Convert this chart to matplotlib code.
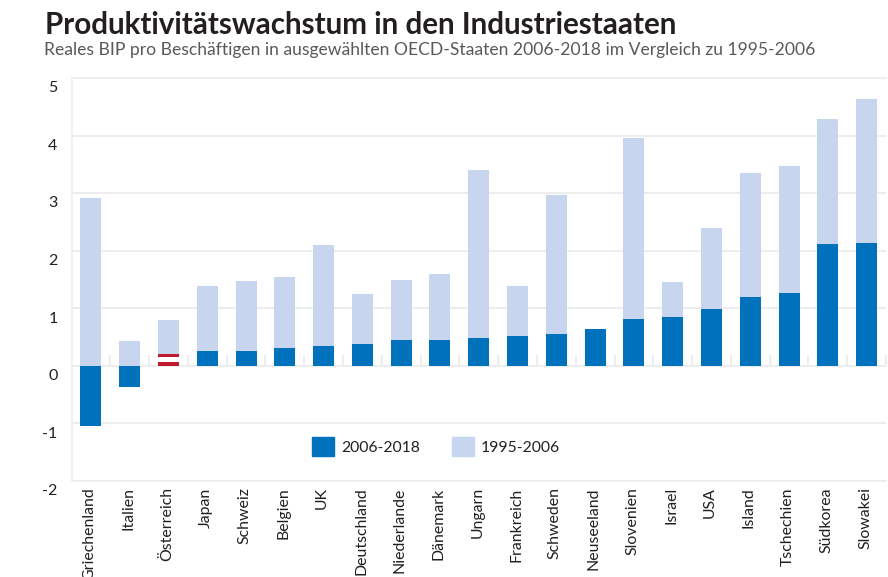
import matplotlib
matplotlib.use('Agg')
import matplotlib.pyplot as plt
import matplotlib.transforms as mtrans
from matplotlib.patches import Patch
import numpy as np

plt.rcParams['font.family'] = ['Lato', 'DejaVu Sans']
plt.rcParams['axes.unicode_minus'] = False

countries = ['Griechenland', 'Italien', 'Österreich', 'Japan', 'Schweiz', 'Belgien', 'UK',
             'Deutschland', 'Niederlande', 'Dänemark', 'Ungarn', 'Frankreich', 'Schweden',
             'Neuseeland', 'Slovenien', 'Israel', 'USA', 'Island', 'Tschechien', 'Südkorea',
             'Slowakei']
# height of the dark segment and top of the stacked bar
recent = [-1.04, -0.36, 0.21, 0.26, 0.26, 0.31, 0.34, 0.38, 0.45, 0.45, 0.49, 0.52, 0.56,
          0.64, 0.82, 0.85, 0.99, 1.20, 1.27, 2.12, 2.14]
totals = [2.92, 0.43, 0.80, 1.39, 1.48, 1.55, 2.10, 1.25, 1.50, 1.60, 3.40, 1.39, 2.97,
          0.64, 3.96, 1.46, 2.40, 3.35, 3.48, 4.29, 4.64]
yticks = [-2, -1, 0, 1, 2, 3, 4, 5]

BLUE = '#0071bc'
LIGHT = '#c7d5ee'
RED = '#c01c2e'
GRID = '#ececec'
TEXT = '#231f20'

fig = plt.figure(figsize=(8.88, 5.77), dpi=100)
ax = fig.add_axes([71.5 / 888, 1 - 481 / 577, (886 - 71.5) / 888, (481 - 78) / 577])

x = np.arange(len(countries))
recent = np.array(recent)
totals = np.array(totals)
base = np.maximum(recent, 0)
width = 0.54

# earlier period sits on top of the positive part
ax.bar(x, totals - base, width, bottom=base, color=LIGHT, zorder=3)
colors = [RED if c == 'Österreich' else BLUE for c in countries]
ax.bar(x, recent, width, color=colors, zorder=3)

# Austria gets the flag look: white band through the middle of the red bar
i_at = countries.index('Österreich')
ax.bar(x[i_at], recent[i_at] * 0.42, width, bottom=recent[i_at] * 0.33, color='white', zorder=4)

ax.set_xlim(-0.5, len(countries) - 0.5)
ax.set_ylim(-2, 5)
ax.set_yticks(yticks)
ax.set_xticks(x)
ax.set_xticklabels(countries, rotation=90, fontsize=11.4, color=TEXT)
ax.tick_params(axis='x', length=0, pad=4.5)
ax.tick_params(axis='y', length=0, pad=10, labelsize=11.5, labelcolor=TEXT)

# y labels hang a little below their gridlines in the original
shift = mtrans.ScaledTranslation(0, -6.3 / 72, fig.dpi_scale_trans)
for lab in ax.get_yticklabels():
    lab.set_transform(lab.get_transform() + shift)
# x labels sit slightly left of the bar centres
shift_x = mtrans.ScaledTranslation(-1 / 72, 0, fig.dpi_scale_trans)
for lab in ax.get_xticklabels():
    lab.set_transform(lab.get_transform() + shift_x)

ax.grid(axis='y', color=GRID, linewidth=1.3, zorder=0)
ax.set_axisbelow(True)
ax.spines['right'].set_visible(False)
for side in ['top', 'left', 'bottom']:
    ax.spines[side].set_color(GRID)
    ax.spines[side].set_linewidth(1.1)

# little separators above the zero line
ax.vlines(x + 0.5, 0, 0.19, color=GRID, linewidth=1.3, zorder=1, clip_on=False)

handles = [Patch(color=BLUE, label='2006-2018'), Patch(color=LIGHT, label='1995-2006')]
ax.legend(handles=handles, ncol=2, frameon=False, loc='center left',
          bbox_to_anchor=(0.295, 0.0855), fontsize=11.35, labelcolor=TEXT,
          handlelength=1.42, handleheight=1.42, handletextpad=0.42, columnspacing=2.05,
          borderpad=0, borderaxespad=0)

fig.text(45 / 888, 1 - 34 / 577, 'Produktivitätswachstum in den Industriestaaten',
         fontsize=21.37, fontweight='bold', color=TEXT, va='baseline')
fig.text(44 / 888, 1 - 55 / 577,
         'Reales BIP pro Beschäftigen in ausgewählten OECD-Staaten 2006-2018 im Vergleich zu 1995-2006',
         fontsize=12.6, color='#595959', va='baseline')

fig.savefig('out.png', dpi=100)
